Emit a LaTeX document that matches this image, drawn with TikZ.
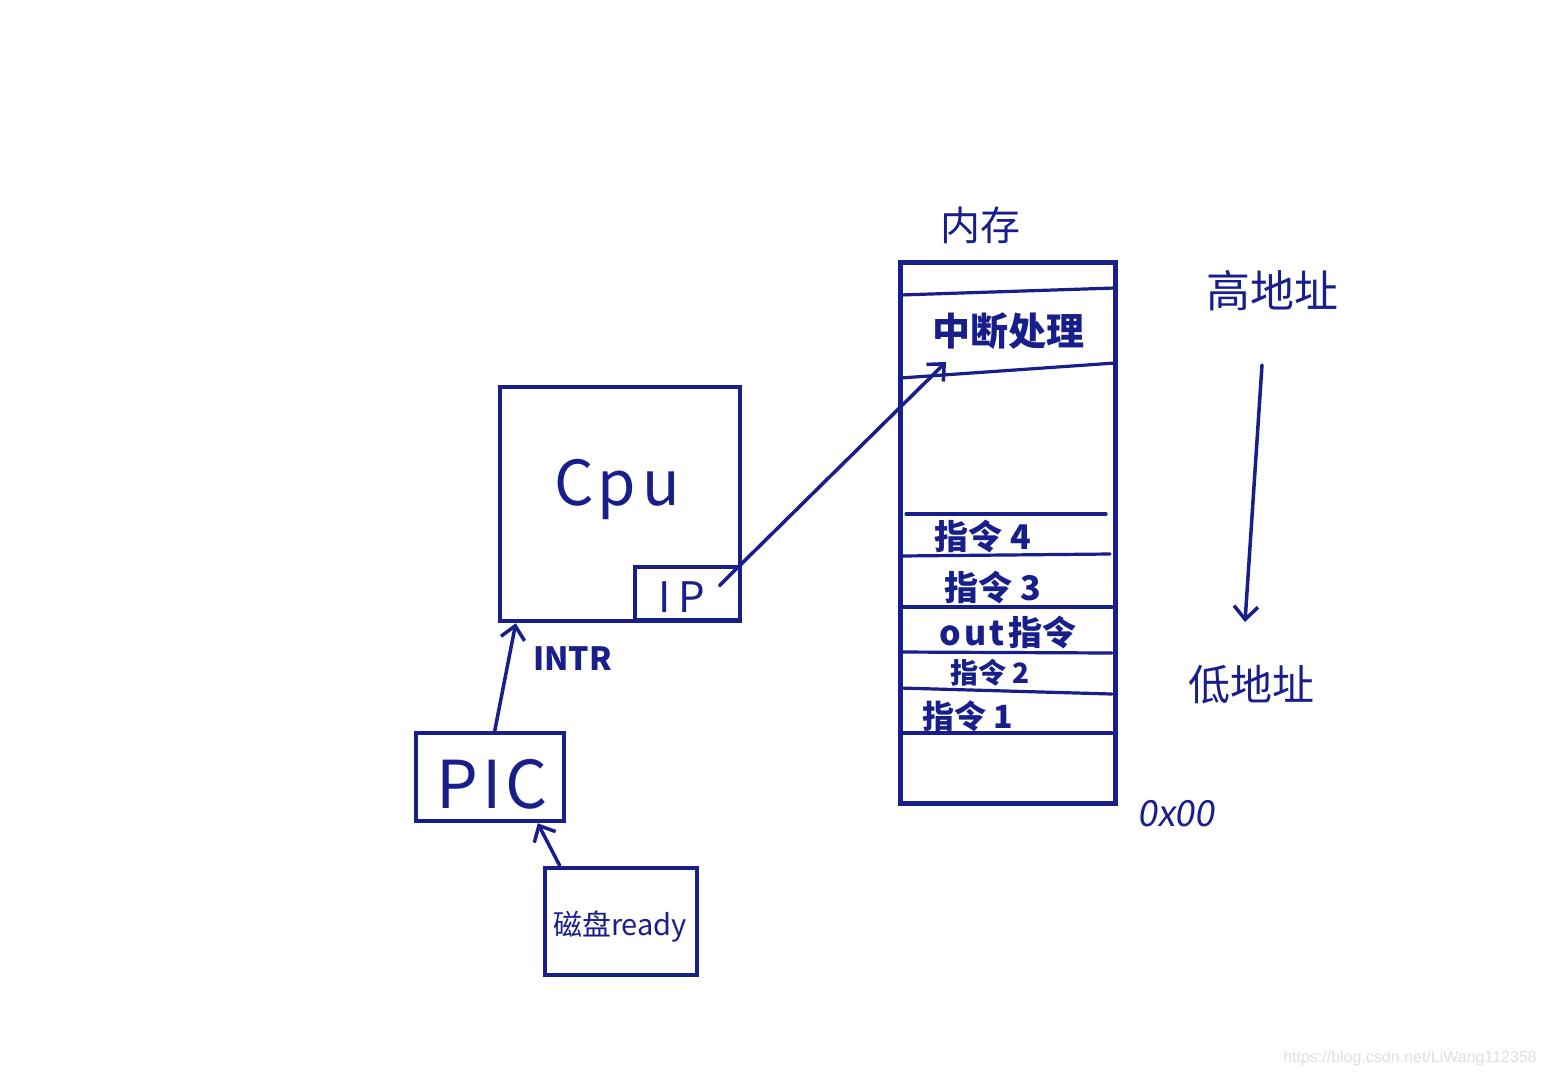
\documentclass[tikz,border=0pt]{standalone}
\usepackage{fontspec}
\newfontfamily\cjk{Noto Sans CJK SC}
\newfontfamily\cjkslant[FakeSlant=0.15]{Noto Sans CJK SC}
\newfontfamily\wmfont{Liberation Sans}
\usetikzlibrary{arrows.meta,calc}
\definecolor{ink}{RGB}{24,30,138}
\newcommand{\fsz}[1]{\fontsize{#1}{#1}\selectfont}
\begin{document}
\begin{tikzpicture}[x=1pt,y=-1pt,
  box/.style={draw=ink, line width=4.5pt, rectangle, inner sep=0pt},
  lbl/.style={text=ink, inner sep=0pt, anchor=base},
  arr/.style={draw=ink, line width=3.5pt, line cap=round,
    -{Straight Barb[length=13pt,width=24pt,line width=3.5pt]}},
  rowline/.style={draw=ink, line width=3.2pt, line cap=round}]
\fill[white] (0,0) rectangle (1546,1080);
\useasboundingbox (0,0) rectangle (1546,1080);

% CPU and IP
\node[box, minimum width=240pt, minimum height=234pt] (cpu) at (620,504) {};
\node[box, minimum width=105pt, minimum height=53pt] (ip) at (687.5,593.5) {};
\node[lbl, font=\cjk\fsz{62}] (cputxt) at (617,505) {C\hspace{4pt}p\hspace{6pt}u};
\node[lbl, font=\cjk\fsz{42}] (iptxt) at (682,612) {I\hspace{8pt}P};
\node[lbl, font=\cjk\bfseries\fsz{32}, anchor=base west] (intr) at (533,670) {INTR};

% PIC and disk
\node[box, minimum width=148pt, minimum height=88pt] (pic) at (490,777) {};
\node[lbl, font=\cjk\fsz{66}] (pictxt) at (492,808) {P\hspace{4pt}I\hspace{4pt}C};
\node[box, minimum width=152pt, minimum height=107pt] (disk) at (621,921.5) {};
\node[lbl, font=\cjk\fsz{29}] (disktxt) at (620,935) {磁盘ready};

% memory
\node[box, line width=5pt, minimum width=215pt, minimum height=541pt] (mem) at (1007.5,532.5) {};
\node[lbl, font=\cjk\fsz{40}] (memtxt) at (980,240) {内存};
\draw[rowline] (900,295) -- (1115,288);
\draw[rowline] (900,378) -- (1115,363);
\draw[rowline] (906,514) -- (1106,514);
\draw[rowline] (900,556) -- (1110,554);
\draw[rowline] (900,607) -- (1112,607);
\draw[rowline] (900,652) -- (1112,653);
\draw[rowline] (900,688) -- (1112,694);
\draw[rowline] (900,733) -- (1112,733);
\node[lbl, font=\cjk\bfseries\fsz{38}] (handler) at (1008,345) {中断处理};
\node[lbl, font=\cjk\bfseries\fsz{34}] (i4) at (983,549) {指令 4};
\node[lbl, font=\cjk\bfseries\fsz{34}] (i3) at (993,600) {指令 3};
\node[lbl, font=\cjk\bfseries\fsz{34}] (iout) at (1008,645) {o\hspace{3pt}u\hspace{3pt}t\hspace{4pt}指令};
\node[lbl, font=\cjk\bfseries\fsz{28}] (i2) at (990,683) {指令 2};
\node[lbl, font=\cjk\bfseries\fsz{32}] (i1) at (968,728) {指令 1};
\node[lbl, font=\cjkslant\fsz{36}] (zero) at (1176,826) {0x00};

% addresses
\node[lbl, font=\cjk\fsz{44}] (hi) at (1272,307) {高地址};
\node[lbl, font=\cjk\fsz{42}] (lo) at (1251,700) {低地址};
\coordinate (astart) at (1262,365);
\coordinate (aend) at (1245,622);
\draw[arr] (astart) -- (aend);

% connectors
\draw[arr] ($(disk.north west)+(17,0)$) -- ($(pic.south west)+(124,0)$);
\draw[arr] ($(pic.north west)+(81,0)$) -- ($(cpu.south west)+(18,0)$);
\coordinate (ipstart) at ($(ip.center)+(32,-8)$);
\coordinate (hend) at (946,362);
\draw[arr] (ipstart) -- (hend);

% watermark
\node[inner sep=0pt, text=black!12, font=\wmfont\fsz{16}, anchor=base] (wm) at (1410,1062) {https://blog.csdn.net/LiWang112358};
\end{tikzpicture}
\end{document}
